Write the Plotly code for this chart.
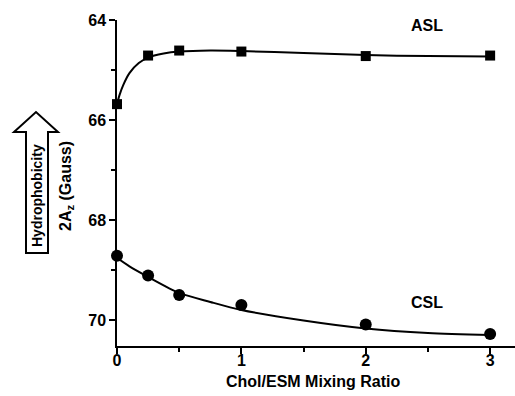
import plotly.graph_objects as go

# ---- data ----
mix_ratio = [0, 0.25, 0.5, 1, 2, 3]
asl_2az = [65.68, 64.71, 64.61, 64.63, 64.72, 64.71]
csl_2az = [68.71, 69.10, 69.49, 69.69, 70.08, 70.27]

asl_fit_x = [0, 0.02, 0.05, 0.1, 0.175, 0.25, 0.375, 0.5, 0.75, 1, 1.5, 2, 2.5, 3]
asl_fit_y = [65.68, 65.5, 65.3, 65.06, 64.86, 64.75, 64.67, 64.63, 64.61, 64.62, 64.66, 64.70, 64.72, 64.73]
csl_fit_x = [0, 0.1, 0.25, 0.5, 0.75, 1, 1.5, 2, 2.5, 3]
csl_fit_y = [68.75, 68.92, 69.13, 69.45, 69.63, 69.79, 70.0, 70.16, 70.25, 70.29]

x_ticks = [0, 1, 2, 3]
y_ticks = [64, 66, 68, 70]

FONT = "Liberation Sans, Arial, sans-serif"

# layout geometry (pixels)
W, H = 515, 396
L, T, R, B = 117, 20, 0, 50
PW, PH = W - L - R, H - T - B


def px(xp):
    return (xp - L) / PW


def py(yp):
    return (H - B - yp) / PH


fig = go.Figure()

fig.add_trace(go.Scatter(x=asl_fit_x, y=asl_fit_y, mode="lines",
                         line=dict(color="black", width=2, shape="spline", smoothing=0.8),
                         hoverinfo="skip", showlegend=False))
fig.add_trace(go.Scatter(x=csl_fit_x, y=csl_fit_y, mode="lines",
                         line=dict(color="black", width=2, shape="spline", smoothing=0.8),
                         hoverinfo="skip", showlegend=False))
fig.add_trace(go.Scatter(x=mix_ratio, y=asl_2az, mode="markers",
                         marker=dict(symbol="square", size=10, color="black"),
                         showlegend=False, name="ASL", cliponaxis=False))
fig.add_trace(go.Scatter(x=mix_ratio, y=csl_2az, mode="markers",
                         marker=dict(symbol="circle", size=12, color="black"),
                         showlegend=False, name="CSL", cliponaxis=False))

axis_common = dict(showline=True, linecolor="black", linewidth=1.5, ticks="outside",
                   ticklen=6, tickwidth=1.5, tickcolor="black", showgrid=False,
                   zeroline=False, mirror=False, automargin=False,
                   tickfont=dict(family=FONT, size=16, color="black", weight="bold"))

fig.update_xaxes(range=[0, 3.2], tickvals=x_ticks, ticktext=[str(v) for v in x_ticks],
                 ticklabelstandoff=-7,
                 minor=dict(dtick=0.5, tick0=0, ticks="outside", ticklen=4, tickwidth=1.5,
                            tickcolor="black", showgrid=False),
                 **axis_common)
fig.update_yaxes(range=[70.51, 64], tickvals=y_ticks, ticktext=[str(v) for v in y_ticks],
                 minor=dict(dtick=1, tick0=64, ticks="outside", ticklen=4, tickwidth=1.5,
                            tickcolor="black", showgrid=False),
                 **axis_common)

annots = [
    dict(x=2.49, y=64.1, xref="x", yref="y", text="ASL", showarrow=False,
         xanchor="center", yanchor="middle",
         font=dict(family=FONT, size=16, color="black", weight="bold")),
    dict(x=2.49, y=69.64, xref="x", yref="y", text="CSL", showarrow=False,
         xanchor="center", yanchor="middle",
         font=dict(family=FONT, size=16, color="black", weight="bold")),
    dict(x=px(313), y=py(381), xref="paper", yref="paper",
         text="Chol/ESM Mixing Ratio", showarrow=False,
         xanchor="center", yanchor="middle",
         font=dict(family=FONT, size=16, color="black", weight="bold")),
    dict(x=px(67), y=py(186), xref="paper", yref="paper",
         text="2A<sub>z</sub> (Gauss)", textangle=-90, showarrow=False,
         xanchor="center", yanchor="middle",
         font=dict(family=FONT, size=16, color="black", weight="bold")),
    dict(x=px(37), y=py(196), xref="paper", yref="paper",
         text="Hydrophobicity", textangle=-90, showarrow=False,
         xanchor="center", yanchor="middle",
         font=dict(family=FONT, size=14, color="black", weight="bold")),
]

# hollow arrow pointing up
pts = [(26, 253), (48, 253), (48, 132), (58, 132), (36, 112), (14, 132), (26, 132)]
path = "M " + " L ".join(f"{px(a):.5f},{py(b):.5f}" for a, b in pts) + " Z"
fig.add_shape(type="path", path=path, xref="paper", yref="paper",
              line=dict(color="black", width=2), fillcolor="white", layer="below")

fig.update_layout(width=W, height=H, margin=dict(l=L, r=R, t=T, b=B, autoexpand=False),
                  plot_bgcolor="white", paper_bgcolor="white",
                  annotations=annots, showlegend=False)

fig.write_html("out.html", config={"displayModeBar": False},
               post_script="document.body.style.margin='0';document.body.style.padding='0';")
